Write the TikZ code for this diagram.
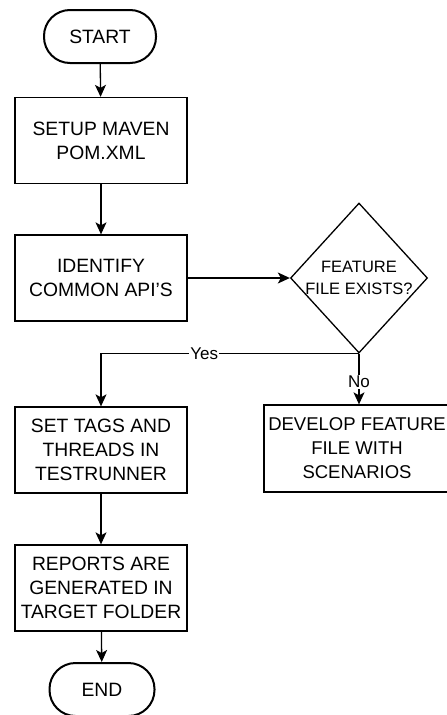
\documentclass[tikz,border=0pt]{standalone}
\usepackage{fontspec}
\setmainfont{Liberation Sans}
\usetikzlibrary{shapes.geometric,arrows.meta}
\begin{document}
\begin{tikzpicture}[x=1pt,y=-1pt,
  box/.style={draw, line width=1.3pt, minimum width=172pt, minimum height=86pt, inner sep=0pt, align=center, font=\fontsize{19.3}{24}\selectfont},
  term/.style={draw, line width=2pt, rounded corners=26pt, minimum height=53pt, inner sep=0pt, font=\fontsize{19.3}{24}\selectfont},
  arr/.style={line width=1.3pt, -{Stealth[length=12pt,width=11pt,inset=3pt]}},
  lbl/.style={fill=white, inner sep=1pt, font=\fontsize{17}{20}\selectfont}]
\useasboundingbox (0,0) rectangle (447,715);
\clip (0,0) rectangle (447,715);
\node[term, minimum width=112pt] (start) at (100,36.5) {START};
\node[box] (setup) at (101,140.5) {SETUP MAVEN\\POM.XML};
\node[box] (identify) at (101,278) {IDENTIFY\\COMMON API'S};
\node[draw, diamond, line width=1.3pt, minimum width=137pt, minimum height=150pt, inner sep=0pt] (dec) at (359,278) {};
\node[align=center, font=\fontsize{16.5}{22}\selectfont] (dectext) at (dec.center) {FEATURE\\FILE EXISTS?};
\node[box] (settags) at (101,450) {SET TAGS AND\\THREADS IN\\TESTRUNNER};
\node[box, minimum width=186pt, minimum height=87pt, font=\fontsize{18.5}{24}\selectfont] (develop) at (357,448.5) {DEVELOP FEATURE\\FILE WITH\\SCENARIOS};
\node[box] (reports) at (101,588) {REPORTS ARE\\GENERATED IN\\TARGET FOLDER};
\node[term, minimum width=105pt] (end) at (102,689.5) {END};
\draw[arr] (start) -- (setup);
\draw[arr] (setup) -- (identify);
\draw[arr] (identify) -- (dec);
\draw[arr] (dec.south) -| node[lbl, pos=0.3] {Yes} (settags.north);
\draw[arr] (dec.south) -- node[lbl, pos=0.56] {No} (dec.south |- develop.north);
\draw[arr] (settags) -- (reports);
\draw[arr] (reports) -- (end);
\end{tikzpicture}
\end{document}
